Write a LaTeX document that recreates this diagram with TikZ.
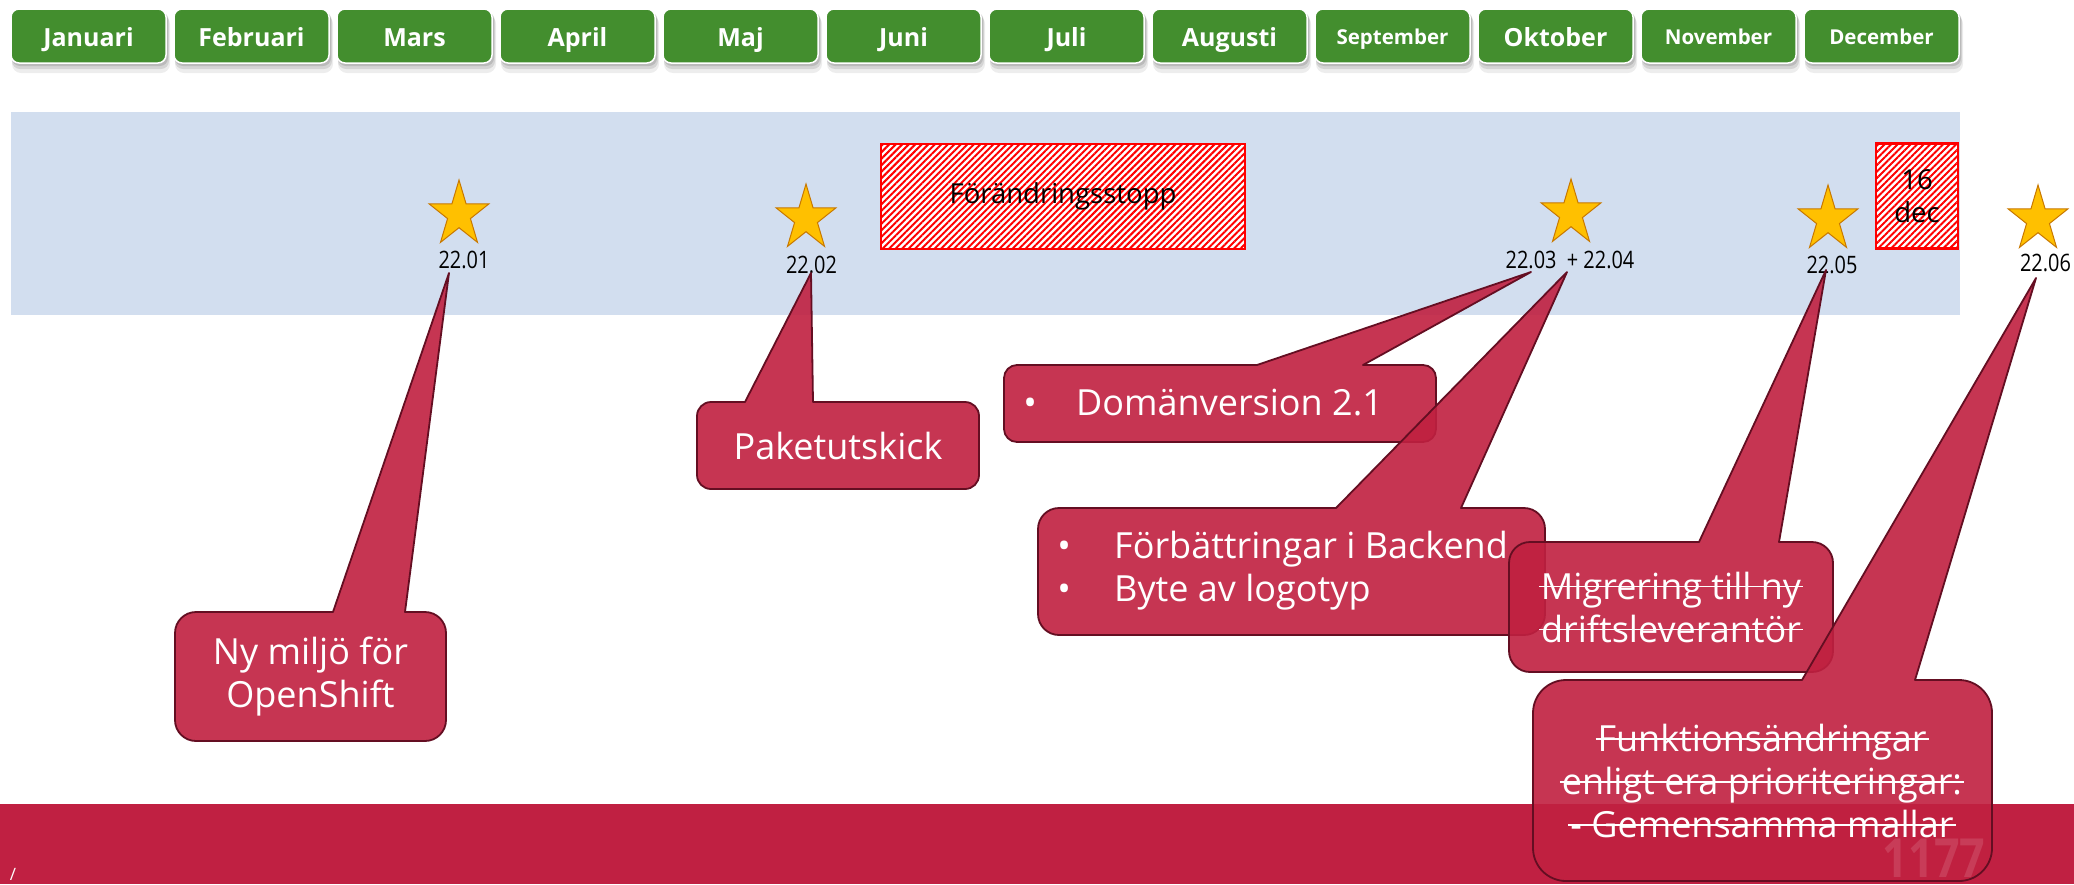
\documentclass[tikz,border=0pt]{standalone}
\usepackage{fontspec}
\setmainfont{Open Sans}
\newfontfamily\condfont[FakeStretch=0.83]{Open Sans}
\newsavebox\stkbox
\newcommand\stk[1]{\sbox\stkbox{#1}\rlap{\hspace{-2pt}\rule[0.32em]{\dimexpr\wd\stkbox+4pt\relax}{1.8pt}}\usebox\stkbox}
\usetikzlibrary{patterns.meta,calc}
\definecolor{mgreen}{RGB}{67,142,46}
\definecolor{bandblue}{RGB}{210,222,239}
\definecolor{bandred}{RGB}{192,32,66}
\definecolor{cfill}{RGB}{192,32,64}
\definecolor{cline}{RGB}{100,14,34}
\definecolor{starfill}{RGB}{255,192,0}
\definecolor{starline}{RGB}{200,120,0}
\newcommand\calloutshape[8]{%
  \pgfmathsetmacro\ck{0.5523*#5}%
  \draw[callout] (#6,#2) -- (#8) -- (#7,#2) -- ({#3-#5},#2)
    .. controls ({#3-#5+\ck},#2) and (#3,{#2+#5-\ck}) .. (#3,{#2+#5})
    -- (#3,{#4-#5})
    .. controls (#3,{#4-#5+\ck}) and ({#3-#5+\ck},#4) .. ({#3-#5},#4)
    -- ({#1+#5},#4)
    .. controls ({#1+#5-\ck},#4) and (#1,{#4-#5+\ck}) .. (#1,{#4-#5})
    -- (#1,{#2+#5})
    .. controls (#1,{#2+#5-\ck}) and ({#1+#5-\ck},#2) .. ({#1+#5},#2)
    -- cycle;
}
\tikzset{
  monthbox/.style={fill=mgreen, draw=white, line width=1.5pt, rounded corners=8pt},
  monthtext/.style={text=white, inner sep=0pt, anchor=base},
  stopbox/.style={draw=red, line width=2.2pt, preaction={fill=white},
    pattern={Lines[angle=45,distance=4.6pt,line width=2pt]}, pattern color=red,
    inner sep=0pt, text=black, font=\fontsize{27.5}{33}\selectfont, align=center},
  starshape/.style={fill=starfill, draw=starline, line width=1pt, line join=miter},
  datelabel/.style={font=\condfont\fontsize{24}{28}\selectfont, text=black, inner sep=0pt, anchor=base},
  callout/.style={fill=cfill, fill opacity=0.9, draw=cline, line width=1.8pt, line join=round},
  callouttext/.style={text=white, font=\fontsize{36}{43}\selectfont, inner sep=0pt, align=center},
}
\begin{document}
\begin{tikzpicture}[x=1pt,y=-1pt]
\useasboundingbox (0,0) rectangle (2074,884);
\fill[white] (0,0) rectangle (2074,884);
% month buttons
\foreach \m/\s/\b [count=\i from 0] in {Januari/25/46,Februari/25/46,Mars/25/46,April/25/46,Maj/25/46,Juni/25/46,Juli/25/46,Augusti/25/46,September/20.5/44,Oktober/25/46,November/20.5/44,December/20.5/44}{
  \pgfmathsetmacro\xa{11+163*\i}
  \pgfmathsetmacro\xb{\xa+155}
  \pgfmathsetmacro\xc{\xa+77.5}
  \fill[black, opacity=0.07, rounded corners=9pt] ({\xa+1},15) rectangle ({\xb+4},73);
  \fill[black, opacity=0.10, rounded corners=8pt] ({\xa+1},13) rectangle ({\xb+3},69);
  \fill[black, opacity=0.12, rounded corners=8pt] ({\xa+1},11) rectangle ({\xb+2},66);
  \draw[monthbox] (\xa,9) rectangle (\xb,63);
  \node[monthtext, font=\bfseries\fontsize{\s}{\s}\selectfont] (m\i) at (\xc,\b) {\m};
}
% blue band
\fill[bandblue] (11,112) rectangle (1960,315);
% change stop boxes
\node[stopbox, minimum width=364pt, minimum height=105pt] (stop) at (1063,196.5) {Förändringsstopp};
\node[stopbox, minimum width=82pt, minimum height=105pt] (dec) at (1917,196) {16\\dec};
% stars
\foreach \x/\y in {459/214.5,806/218.5,1571/213.5,1828/219.5,2038/219.5}{
  \draw[starshape, shift={(\x,\y)}] (0,-34.5) -- (7.07,-10.66) -- (29.96,-10.66) -- (11.44,4.07) -- (18.52,27.91) -- (0,13.18) -- (-18.52,27.91) -- (-11.44,4.07) -- (-29.96,-10.66) -- (-7.07,-10.66) -- cycle;
}
\node[datelabel] (d1) at (464,268) {22.01};
\node[datelabel] (d2) at (811.5,273) {22.02};
\node[datelabel] (d3) at (1570,268) {22.03~~+ 22.04};
\node[datelabel] (d5) at (1832,273) {22.05};
\node[datelabel] (d6) at (2045.5,271) {22.06};
% bottom band
\fill[bandred] (0,804) rectangle (2074,884);
\node[text=white, inner sep=0pt, anchor=base, font=\fontsize{17}{17}\selectfont] (slash) at (13,880) {/};
% pointer tips
\coordinate (t1) at (449,273);
\coordinate (t2) at (811,273);
\coordinate (t3) at (1531,272);
\coordinate (t4) at (1567,272);
\coordinate (t5) at (1826,270);
\coordinate (t6) at (2036,278);
% callouts
\calloutshape{175}{612}{446}{741}{21}{333}{405}{t1}
\calloutshape{697}{402}{979}{489}{14}{745}{813}{t2}
\calloutshape{1004}{365}{1436}{442}{13}{1257}{1363}{t3}
\calloutshape{1038}{508}{1545}{635}{21}{1336}{1461}{t4}
\calloutshape{1509}{542}{1833}{672}{21}{1699}{1779}{t5}
\calloutshape{1533}{680}{1992}{881}{33}{1802}{1915}{t6}
\node[text=white, text opacity=0.13, inner sep=0pt, anchor=base, font=\condfont\bfseries\fontsize{54}{54}\selectfont] (logo) at (1934,877) {1177};
% callout texts
\node[callouttext] (c1t) at (310.5,677) {Ny miljö för\\OpenShift};
\node[callouttext] (c2t) at (838,446) {Paketutskick};
\node[callouttext, anchor=west, align=left] (c3t) at (1010,403) {\makebox[40pt][c]{•}\hspace{26pt}Domänversion 2.1};
\node[callouttext, anchor=west, align=left] (c4t) at (1044,571) {\makebox[40pt][c]{•}\hspace{30pt}Förbättringar i Backend\\\makebox[40pt][c]{•}\hspace{30pt}Byte av logotyp};
\node[callouttext] (c5t) at (1671,607) {\stk{Migrering till ny}\\\stk{driftsleverantör}};
\node[callouttext] (c6t) at (1762,781) {\stk{Funktionsändringar}\\\stk{enligt era prioriteringar:}\\\stk{- Gemensamma mallar}};
\end{tikzpicture}
\end{document}
